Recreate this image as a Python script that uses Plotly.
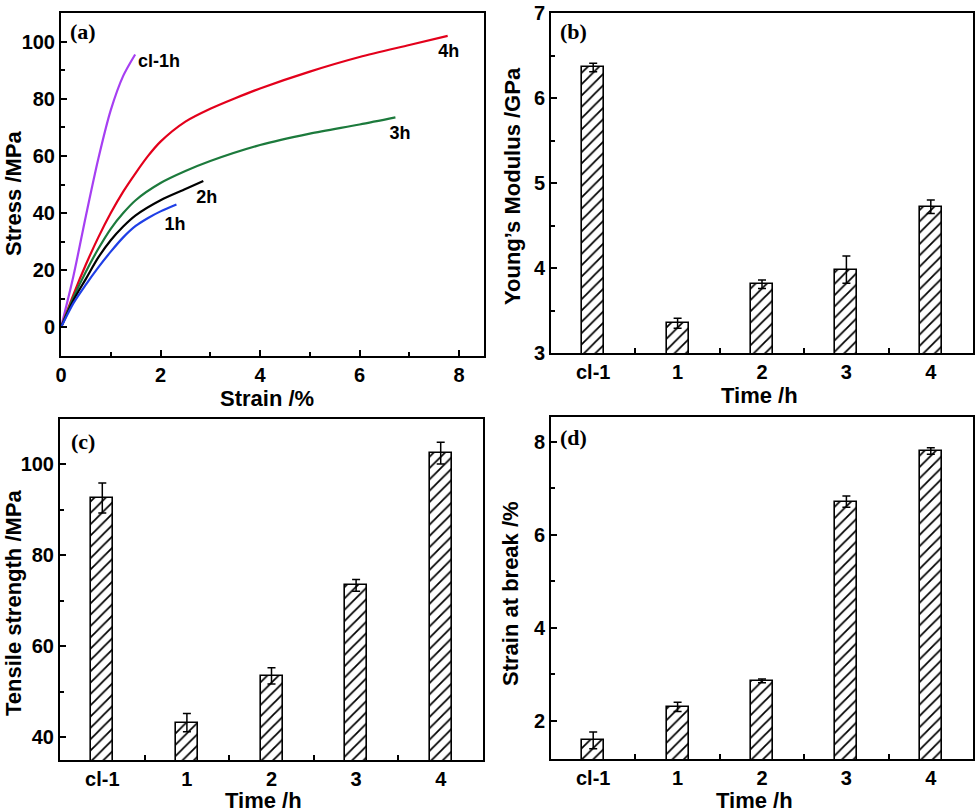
import plotly.graph_objects as go

W, H = 980, 812

# ---- panel (a): stress-strain curves ----
cl1_x = [0, 0.25, 0.5, 0.75, 1.0, 1.25, 1.49]
cl1_y = [0, 18, 39, 59, 76, 88, 95.5]

h4_x = [0, 0.25, 0.5, 0.75, 1.0, 1.25, 1.5, 1.75, 2.0, 2.5, 3.0, 3.5, 4.0, 5.0, 6.0, 7.0, 7.77]
h4_y = [0, 11.5, 22, 31.5, 40, 47.5, 54, 60, 65, 72, 76.5, 80.2, 83.6, 89.5, 94.6, 98.8, 102]

h3_x = [0, 0.25, 0.5, 0.75, 1.0, 1.25, 1.5, 2.0, 2.5, 3.0, 4.0, 5.0, 6.0, 6.72]
h3_y = [0, 10.5, 19.5, 27.5, 34.5, 40, 44.5, 50.5, 54.7, 58.2, 63.8, 67.8, 71, 73.5]

h2_x = [0, 0.25, 0.5, 0.75, 1.0, 1.25, 1.5, 2.0, 2.5, 2.86]
h2_y = [0, 9.5, 17, 24.5, 30.5, 35.3, 39.2, 44.5, 48.4, 51.2]

h1_x = [0, 0.25, 0.5, 0.75, 1.0, 1.25, 1.5, 1.75, 2.0, 2.32]
h1_y = [0, 8.5, 15, 21, 26.5, 31.5, 35.5, 38.3, 40.6, 43]

curve_labels = ["cl-1h", "4h", "3h", "2h", "1h"]
label_x = [1.97, 7.79, 6.81, 2.93, 2.29]
label_y = [92.7, 96.2, 67.5, 45.1, 35.7]

# ---- bar panels ----
time_labels = ["cl-1", "1", "2", "3", "4"]
time_pos = [0, 1, 2, 3, 4]

modulus = [6.36, 3.35, 3.81, 3.98, 4.72]
modulus_err = [0.05, 0.06, 0.05, 0.16, 0.08]

tensile = [92.6, 43.2, 53.5, 73.4, 102.5]
tensile_err = [3.3, 2.0, 1.8, 1.3, 2.4]

strain_break = [1.58, 2.30, 2.86, 6.71, 7.80]
strain_break_err = [0.18, 0.10, 0.04, 0.12, 0.07]

FONT = "Arial, Liberation Sans, sans-serif"
SERIF = "Times New Roman, Liberation Serif, serif"

fig = go.Figure()

for xs, ys, col in [(cl1_x, cl1_y, "#a63ff2"), (h4_x, h4_y, "#e3001b"),
                    (h3_x, h3_y, "#1c7a3c"), (h2_x, h2_y, "#000000"),
                    (h1_x, h1_y, "#1f3fe6")]:
    fig.add_trace(go.Scatter(x=xs, y=ys, mode="lines",
                             line=dict(color=col, width=2.2, shape="spline", smoothing=0.8),
                             xaxis="x", yaxis="y", showlegend=False))

fig.add_trace(go.Scatter(x=label_x, y=label_y, mode="text", text=curve_labels,
                         textfont=dict(family=FONT, size=18, color="black", weight="bold"),
                         xaxis="x", yaxis="y", showlegend=False))


def bar(vals, errs, ax):
    return go.Bar(
        x=time_pos, y=vals, width=0.26, xaxis="x" + ax, yaxis="y" + ax, showlegend=False,
        marker=dict(color="white", line=dict(color="black", width=1.6),
                    pattern=dict(shape="/", fgcolor="black", bgcolor="white", size=8, solidity=0.22)),
        error_y=dict(type="data", array=errs, color="black", thickness=1.5, width=4),
    )


fig.add_trace(bar(modulus, modulus_err, "2"))
fig.add_trace(bar(tensile, tensile_err, "3"))
fig.add_trace(bar(strain_break, strain_break_err, "4"))


def px_x(p):
    return p / W


def px_y(p):
    return 1 - p / H


tickfont = dict(family=FONT, size=20, color="black", weight="bold")
common = dict(showline=True, linecolor="black", linewidth=2, mirror=True, ticks="inside",
              ticklen=6, tickwidth=1.5, tickcolor="black", showgrid=False, zeroline=False,
              tickfont=tickfont, automargin=False)


def cat_x(dom, anchor):
    return dict(common, domain=dom, anchor=anchor, range=[-0.5, 4.5], tickmode="array",
                tickvals=time_pos, ticktext=time_labels, ticks="",
                minor=dict(tickmode="array", tickvals=[0.5, 1.5, 2.5, 3.5], ticks="inside",
                           ticklen=5, tickwidth=1.5, tickcolor="black"))


fig.update_layout(
    template="none",
    width=W, height=H, margin=dict(l=0, r=0, t=0, b=0),
    plot_bgcolor="white", paper_bgcolor="white", bargap=0,
    xaxis=dict(common, domain=[px_x(61), px_x(484)], anchor="y", range=[0, 8.5], dtick=2,
               minor=dict(dtick=1, ticks="inside", ticklen=4, tickcolor="black")),
    yaxis=dict(common, domain=[px_y(356), px_y(13)], anchor="x", range=[-10, 110], dtick=20,
               minor=dict(dtick=10, ticks="inside", ticklen=4, tickcolor="black")),
    xaxis2=cat_x([px_x(551), px_x(973)], "y2"),
    yaxis2=dict(common, domain=[px_y(353), px_y(13)], anchor="x2", range=[3, 7], dtick=1,
                minor=dict(dtick=0.5, ticks="inside", ticklen=4, tickcolor="black")),
    xaxis3=cat_x([px_x(60), px_x(483)], "y3"),
    yaxis3=dict(common, domain=[px_y(760), px_y(419)], anchor="x3", range=[35, 110], dtick=20,
                tick0=0, minor=dict(dtick=10, ticks="inside", ticklen=4, tickcolor="black")),
    xaxis4=cat_x([px_x(551), px_x(973)], "y4"),
    yaxis4=dict(common, domain=[px_y(759), px_y(417)], anchor="x4", range=[1.18, 8.53], dtick=2,
                tick0=0, minor=dict(dtick=1, ticks="inside", ticklen=4, tickcolor="black")),
)

titlefont = dict(family=FONT, size=22, color="black", weight="bold")
panelfont = dict(family=SERIF, size=22, color="black", weight="bold")

ann = []
# axis titles (x centre px, y centre px, text, angle)
for cx, cy, txt, ang in [
    (267, 398, "Strain /%", 0), (13, 194, "Stress /MPa", -90),
    (759, 396, "Time /h", 0), (512, 186, "Young’s Modulus /GPa", -90),
    (263, 800, "Time /h", 0), (13, 603, "Tensile strength /MPa", -90),
    (754, 800, "Time /h", 0), (510, 594, "Strain at break /%", -90),
]:
    ann.append(dict(x=px_x(cx), y=px_y(cy), xref="paper", yref="paper", text=txt, textangle=ang,
                    showarrow=False, font=titlefont, xanchor="center", yanchor="middle"))

for cx, cy, txt in [(83, 31, "(a)"), (573, 31, "(b)"), (83, 442, "(c)"), (573, 438, "(d)")]:
    ann.append(dict(x=px_x(cx), y=px_y(cy), xref="paper", yref="paper", text=txt,
                    showarrow=False, font=panelfont, xanchor="center", yanchor="middle"))

fig.update_layout(annotations=ann)

# page body has a default 8px margin; remove it so the figure fills the window
fig.write_html("out.html", config={"displayModeBar": False},
               post_script="document.body.style.margin='0px';document.body.style.overflow='hidden';")
